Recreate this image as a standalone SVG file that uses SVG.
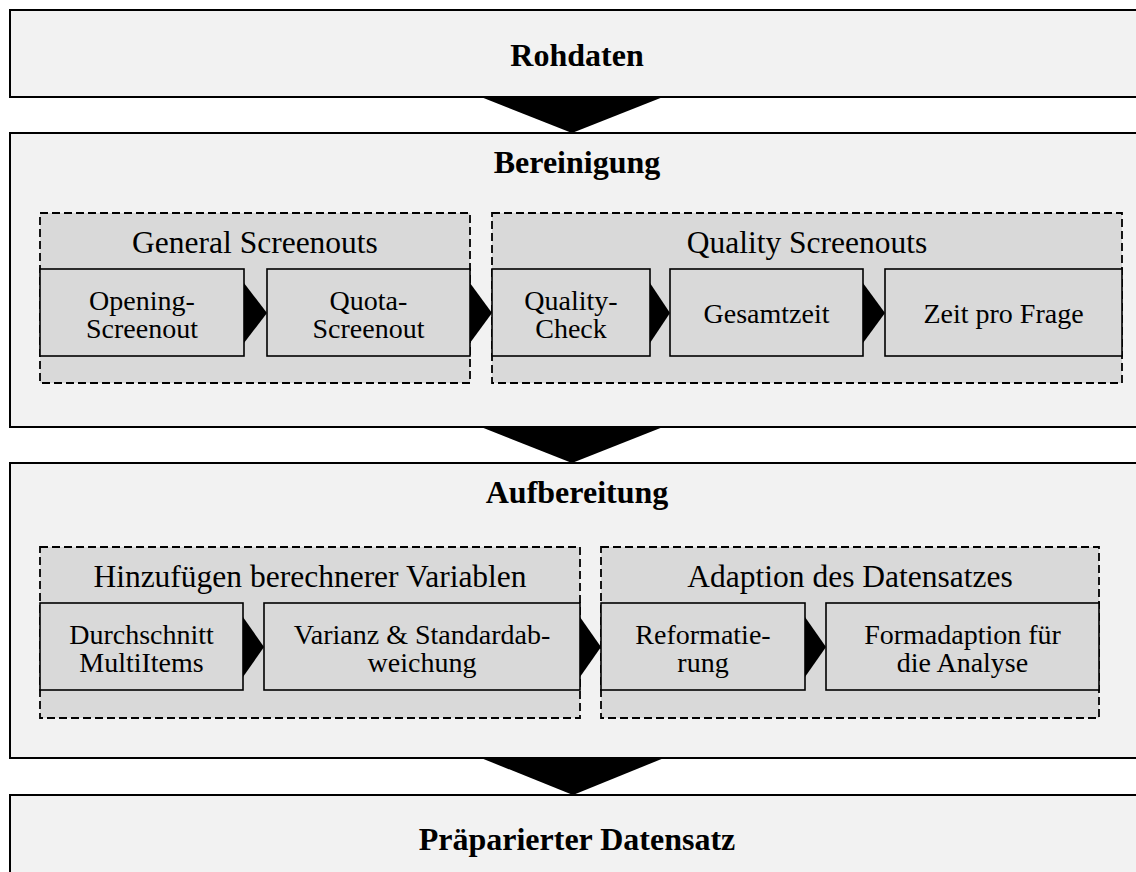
<svg xmlns="http://www.w3.org/2000/svg" width="1136" height="872" viewBox="0 0 1136 872">
  <style>
    .stage { fill: #f2f2f2; stroke: #000; stroke-width: 2; }
    .group { fill: #d9d9d9; stroke: #000; stroke-width: 1.8; stroke-dasharray: 8 4; }
    .step { fill: #d9d9d9; stroke: #000; stroke-width: 1.6; }
    .arrow { fill: #000; stroke: none; }
    text { font-family: "Liberation Serif", "Times New Roman", serif; fill: #000; text-anchor: middle; }
    .title { font-size: 32px; font-weight: bold; }
    .head { font-size: 31.5px; }
    .lbl { font-size: 28px; }
  </style>

  <!-- Stage 1: raw data -->
  <g id="rohdaten">
    <rect class="stage" x="10" y="10" width="1140" height="87"/>
    <text class="title" x="577" y="66">Rohdaten</text>
  </g>

  <!-- Stage 2: cleaning -->
  <g id="bereinigung">
    <rect class="stage" x="10" y="133" width="1140" height="294"/>
    <text class="title" x="577" y="173">Bereinigung</text>
  </g>
  <g id="general-screenouts">
    <rect class="group" x="40" y="213" width="430" height="170"/>
    <text class="head" x="255" y="253">General Screenouts</text>
  </g>
  <g id="quality-screenouts">
    <rect class="group" x="492" y="213" width="630" height="170"/>
    <text class="head" x="807" y="253">Quality Screenouts</text>
  </g>
  <g id="opening-screenout">
    <rect class="step" x="40" y="269" width="204" height="87"/>
    <text class="lbl" x="142" y="310">Opening-</text>
    <text class="lbl" x="142" y="338">Screenout</text>
  </g>
  <g id="quota-screenout">
    <rect class="step" x="267" y="269" width="203" height="87"/>
    <text class="lbl" x="368.5" y="310">Quota-</text>
    <text class="lbl" x="368.5" y="338">Screenout</text>
  </g>
  <g id="quality-check">
    <rect class="step" x="492" y="269" width="158" height="87"/>
    <text class="lbl" x="571" y="310">Quality-</text>
    <text class="lbl" x="571" y="338">Check</text>
  </g>
  <g id="gesamtzeit">
    <rect class="step" x="670" y="269" width="193" height="87"/>
    <text class="lbl" x="766.5" y="323">Gesamtzeit</text>
  </g>
  <g id="zeit-pro-frage">
    <rect class="step" x="885" y="269" width="237" height="87"/>
    <text class="lbl" x="1003.5" y="323">Zeit pro Frage</text>
  </g>

  <!-- Stage 3: preparation -->
  <g id="aufbereitung">
    <rect class="stage" x="10" y="463" width="1140" height="295"/>
    <text class="title" x="577" y="503">Aufbereitung</text>
  </g>
  <g id="berechnete-variablen">
    <rect class="group" x="40" y="547" width="540" height="171"/>
    <text class="head" x="310" y="587">Hinzufügen berechnerer Variablen</text>
  </g>
  <g id="adaption-datensatz">
    <rect class="group" x="601" y="547" width="498" height="171"/>
    <text class="head" x="850" y="587">Adaption des Datensatzes</text>
  </g>
  <g id="durchschnitt">
    <rect class="step" x="40" y="603" width="203" height="87"/>
    <text class="lbl" x="141.5" y="644">Durchschnitt</text>
    <text class="lbl" x="141.5" y="672">MultiItems</text>
  </g>
  <g id="varianz">
    <rect class="step" x="264" y="603" width="316" height="87"/>
    <text class="lbl" x="422" y="644">Varianz &amp; Standardab-</text>
    <text class="lbl" x="422" y="672">weichung</text>
  </g>
  <g id="reformatierung">
    <rect class="step" x="601" y="603" width="204" height="87"/>
    <text class="lbl" x="703" y="644">Reformatie-</text>
    <text class="lbl" x="703" y="672">rung</text>
  </g>
  <g id="formadaption">
    <rect class="step" x="826" y="603" width="273" height="87"/>
    <text class="lbl" x="962.5" y="644">Formadaption für</text>
    <text class="lbl" x="962.5" y="672">die Analyse</text>
  </g>

  <!-- Stage 4: result -->
  <g id="praeparierter-datensatz">
    <rect class="stage" x="10" y="795" width="1140" height="90"/>
    <text class="title" x="577" y="850">Präparierter Datensatz</text>
  </g>

  <!-- Connectors: stage arrows and step chevrons -->
  <g id="connectors">
    <polygon class="arrow" points="481,97 663,97 572,133"/>
    <polygon class="arrow" points="481,427 663,427 572,463"/>
    <polygon class="arrow" points="481,758 664,758 573,795"/>

    <polygon class="arrow" points="244,283 267,313 244,343"/>
    <polygon class="arrow" points="470,283 492,313 470,343"/>
    <polygon class="arrow" points="650,283 670,313 650,343"/>
    <polygon class="arrow" points="863,283 885,313 863,343"/>

    <polygon class="arrow" points="243,617 264,647 243,677"/>
    <polygon class="arrow" points="580,617 601,647 580,677"/>
    <polygon class="arrow" points="805,617 826,647 805,677"/>
  </g>
</svg>
